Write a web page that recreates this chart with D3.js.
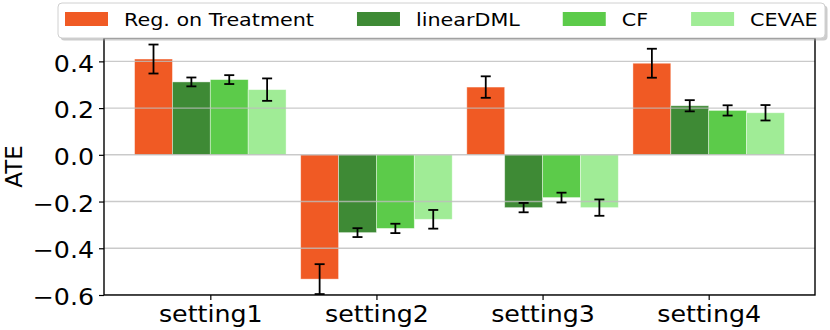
<!DOCTYPE html>
<html>
<head>
<meta charset="utf-8">
<script src="https://cdn.jsdelivr.net/npm/d3@7"></script>
<style>
  body { margin: 0; background: #fff; }
  svg text { font-family: 'DejaVu Sans', sans-serif; fill: #000; }
</style>
</head>
<body>
<div id="vis"></div>
<script>
// data
const settings = ['setting1', 'setting2', 'setting3', 'setting4']
const methods = ['Reg. on Treatment', 'linearDML', 'CF', 'CEVAE']
const colors = ['#f05a24', '#3e8a35', '#5ccb4a', '#a0ec96']
const ate_reg = [0.41, -0.532, 0.29, 0.392]
const ate_dml = [0.312, -0.333, -0.226, 0.21]
const ate_cf = [0.322, -0.315, -0.183, 0.19]
const ate_cevae = [0.279, -0.276, -0.226, 0.18]
const err_reg = [0.062, 0.064, 0.046, 0.062]
const err_dml = [0.019, 0.019, 0.02, 0.024]
const err_cf = [0.019, 0.02, 0.021, 0.022]
const err_cevae = [0.048, 0.04, 0.035, 0.033]
const y_ticks = [-0.6, -0.4, -0.2, 0.0, 0.2, 0.4]

;(function() {
  const svg_width = 830,
        svg_height = 330,
        svg = d3.select('#vis').append('svg')

  svg.attr('width', svg_width)
    .attr('height', svg_height)

  const left = 104, right = 815, top = 38, bottom = 295
  const bar_w = 0.228
  // the source figure looks a bit stretched sideways, so is its text
  const sx = 1.1

  const x = d3.scaleLinear().domain([-0.64, 3.64]).range([left, right])
  const y = d3.scaleLinear().domain([-0.6, 0.5]).range([bottom, top])

  const values = [ate_reg, ate_dml, ate_cf, ate_cevae]
  const errors = [err_reg, err_dml, err_cf, err_cevae]

  svg.append('clipPath').attr('id', 'plot-clip')
    .append('rect')
    .attr('x', left).attr('y', top)
    .attr('width', right - left).attr('height', bottom - top)

  const plot = svg.append('g').attr('clip-path', 'url(#plot-clip)')

  // bars
  methods.forEach((m, mi) => {
    plot.append('g').selectAll('rect')
      .data(values[mi])
      .join('rect')
      .attr('x', (d, i) => x(i + (mi - 2) * bar_w))
      .attr('width', x(bar_w) - x(0))
      .attr('y', d => y(Math.max(d, 0)))
      .attr('height', d => Math.abs(y(d) - y(0)))
      .attr('fill', colors[mi])
      .attr('stroke', '#fff')
      .attr('stroke-opacity', 0.5)
      .attr('stroke-width', 0.8)
  })

  // grid on top of the bars
  plot.append('g').selectAll('line')
    .data(y_ticks)
    .join('line')
    .attr('x1', left).attr('x2', right)
    .attr('y1', d => y(d)).attr('y2', d => y(d))
    .attr('stroke', '#bdbdbd')
    .attr('stroke-opacity', 0.8)
    .attr('stroke-width', 1.4)

  // error bars
  methods.forEach((m, mi) => {
    const g = plot.append('g')
    values[mi].forEach((v, i) => {
      const cx = x(i + (mi - 1.5) * bar_w)
      const e = errors[mi][i]
      g.append('line')
        .attr('x1', cx).attr('x2', cx)
        .attr('y1', y(v - e)).attr('y2', y(v + e))
        .attr('stroke', '#000').attr('stroke-width', 1.8)
      ;[v - e, v + e].forEach(t => {
        g.append('line')
          .attr('x1', cx - 5).attr('x2', cx + 5)
          .attr('y1', y(t)).attr('y2', y(t))
          .attr('stroke', '#000').attr('stroke-width', 1.8)
      })
    })
  })

  // axes
  const yAxis = svg.append('g')
    .attr('transform', `translate(${left},0)`)
    .call(d3.axisLeft(y).tickValues(y_ticks)
      .tickFormat(d => d3.format('.1f')(d).replace('-', '\u2212'))
      .tickSize(5).tickPadding(5))
  yAxis.select('.domain').remove()
  yAxis.selectAll('text')
    .style('font-size', '23px')
    .attr('dy', '0.42em')
    .attr('x', -10 / sx)
    .attr('transform', `scale(${sx},1)`)
  yAxis.selectAll('line').attr('stroke', '#000').attr('stroke-width', 1.2)

  const xAxis = svg.append('g')
    .attr('transform', `translate(0,${bottom})`)
    .call(d3.axisBottom(x).tickValues(d3.range(settings.length))
      .tickFormat(i => settings[i])
      .tickSize(5).tickPadding(4))
  xAxis.select('.domain').remove()
  xAxis.selectAll('text')
    .style('font-size', '23px')
    .attr('dy', '0.78em')
    .attr('transform', `scale(${sx},1)`)
  xAxis.selectAll('line').attr('stroke', '#000').attr('stroke-width', 1.2)

  // spines
  svg.append('rect')
    .attr('x', left).attr('y', top)
    .attr('width', right - left).attr('height', bottom - top)
    .attr('fill', 'none')
    .attr('stroke', '#000')
    .attr('stroke-width', 1.4)

  svg.append('text')
    .attr('transform', `translate(22,${(top + bottom) / 2}) rotate(-90)`)
    .attr('text-anchor', 'middle')
    .style('font-size', '23px')
    .text('ATE')

  // legend
  const leg = svg.append('g').attr('class', 'legend')
  const box = { x: 58, y: 3, w: 767, h: 35 }
  leg.append('rect')
    .attr('x', box.x + 2.5).attr('y', box.y + 2.5)
    .attr('width', box.w).attr('height', box.h)
    .attr('rx', 4)
    .attr('fill', '#9a9a9a').attr('opacity', 0.5)
  leg.append('rect')
    .attr('x', box.x).attr('y', box.y)
    .attr('width', box.w).attr('height', box.h)
    .attr('rx', 4)
    .attr('fill', '#fff')
    .attr('stroke', '#d0d0d0')

  const lsx = 1.15
  let lx = 65
  methods.forEach((m, mi) => {
    leg.append('rect')
      .attr('x', lx).attr('y', 12)
      .attr('width', 43).attr('height', 14)
      .attr('fill', colors[mi])
    const t = leg.append('text')
      .attr('transform', `translate(${lx + 59},26) scale(${lsx},1)`)
      .style('font-size', '18px')
      .text(m)
    lx += 59 + t.node().getComputedTextLength() * lsx + 43
  })
}())
</script>
</body>
</html>
